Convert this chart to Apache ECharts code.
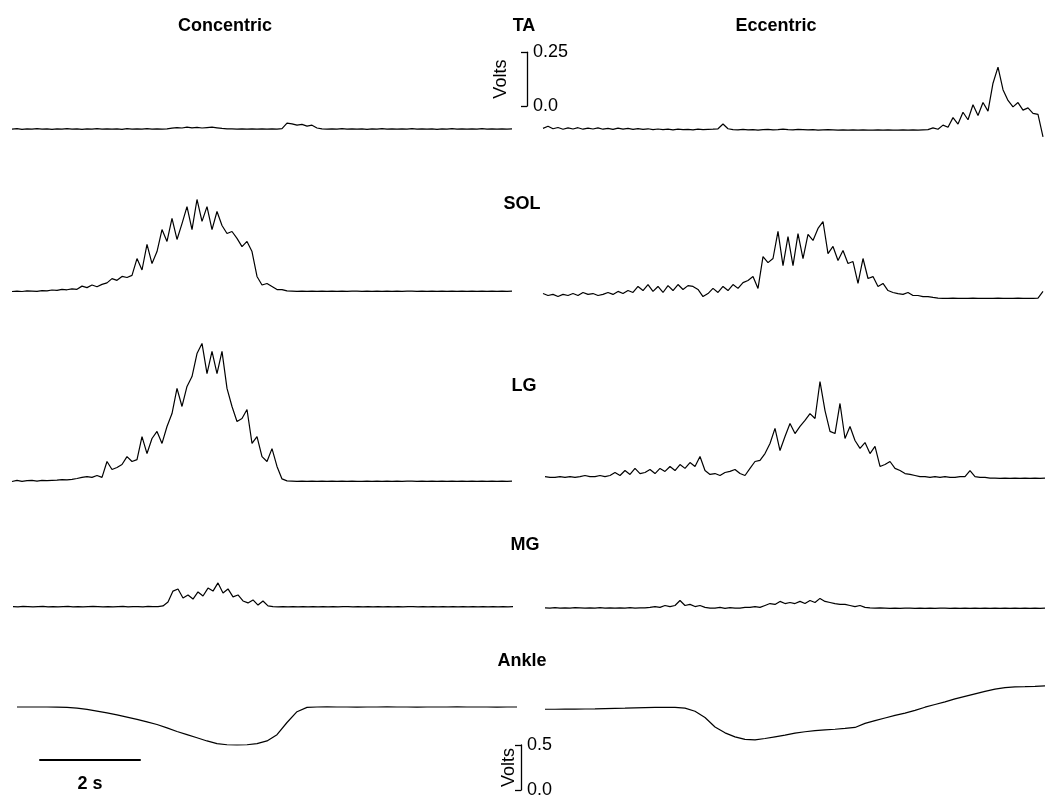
<!DOCTYPE html>
<html><head><meta charset="utf-8">
<script src="https://cdn.jsdelivr.net/npm/echarts@6/dist/echarts.min.js"></script>
<style>html,body{margin:0;padding:0;background:#fff}#c{width:1045px;height:801px}</style>
</head><body><div id="c"></div>
<script>
// ---------------- DATA ----------------
const columns = ['Concentric', 'Eccentric'];
const muscles = ['TA', 'SOL', 'LG', 'MG'];
const ankleLabel = 'Ankle';
const EMG_STEP_S = 0.1;     // sample spacing of the EMG envelopes (s)
const ANKLE_STEP_S = 0.2;   // sample spacing of the ankle signal (s)
const emgScaleTicks = [0, 0.25];   // Volts
const ankleScaleTicks = [0, 0.5];  // Volts
const timeBarSeconds = 2;

const taConcentric = [
0.002,0.004,0.001,0.003,0.002,0.004,0.002,0.003,0.001,0.003,
0.002,0.004,0.002,0.003,0.001,0.003,0.002,0.004,0.002,0.003,
0.002,0.003,0.001,0.004,0.002,0.003,0.002,0.004,0.002,0.003,
0.002,0.003,0.006,0.009,0.007,0.011,0.008,0.010,0.007,0.009,
0.011,0.008,0.005,0.003,0.003,0.002,0.003,0.002,0.003,0.002,
0.003,0.002,0.003,0.002,0.004,0.030,0.026,0.020,0.024,0.016,
0.020,0.007,0.003,0.002,0.003,0.002,0.004,0.002,0.003,0.002,
0.003,0.001,0.003,0.002,0.004,0.002,0.003,0.002,0.003,0.002,
0.004,0.002,0.003,0.002,0.003,0.001,0.003,0.002,0.004,0.002,
0.003,0.002,0.003,0.002,0.004,0.002,0.003,0.002,0.003,0.002,
0.003];
const taEccentric = [
0.010,0.020,0.008,0.014,0.006,0.012,0.007,0.013,0.006,0.011,
0.007,0.012,0.006,0.010,0.005,0.011,0.006,0.010,0.005,0.009,
0.005,0.008,0.004,0.007,0.004,0.006,0.003,0.006,0.004,0.005,
0.003,0.006,0.004,0.005,0.006,0.008,0.030,0.008,0.004,0.003,
0.005,0.003,0.004,0.002,0.004,0.005,0.003,0.004,0.006,0.004,
0.003,0.005,0.004,0.003,0.004,0.002,0.003,0.004,0.003,0.002,
0.003,0.002,0.003,0.002,0.003,0.002,0.002,0.003,0.002,0.003,
0.002,0.002,0.003,0.002,0.003,0.002,0.003,0.004,0.012,0.006,
0.025,0.015,0.060,0.030,0.085,0.050,0.120,0.070,0.130,0.090,
0.220,0.295,0.190,0.140,0.110,0.130,0.095,0.105,0.080,0.075,
-0.030];
const solConcentric = [
0.000,0.002,0.000,0.003,0.002,0.001,0.004,0.003,0.007,0.005,
0.010,0.008,0.012,0.010,0.025,0.018,0.030,0.022,0.033,0.040,
0.060,0.052,0.070,0.065,0.075,0.153,0.100,0.219,0.130,0.186,
0.288,0.233,0.340,0.242,0.316,0.395,0.288,0.428,0.326,0.395,
0.288,0.372,0.307,0.270,0.279,0.247,0.209,0.233,0.186,0.070,
0.030,0.037,0.023,0.009,0.009,0.003,0.002,0.001,0.002,0.001,
0.002,0.001,0.002,0.001,0.002,0.001,0.002,0.001,0.002,0.002,
0.001,0.002,0.001,0.002,0.001,0.002,0.001,0.002,0.001,0.002,
0.002,0.001,0.002,0.001,0.002,0.001,0.002,0.001,0.002,0.001,
0.002,0.001,0.002,0.001,0.002,0.001,0.002,0.001,0.002,0.001,
0.002];
const solEccentric = [
0.023,0.014,0.019,0.009,0.019,0.014,0.023,0.014,0.028,0.019,
0.023,0.014,0.019,0.028,0.019,0.033,0.023,0.037,0.028,0.056,
0.037,0.065,0.033,0.056,0.028,0.060,0.037,0.065,0.042,0.060,
0.056,0.042,0.009,0.023,0.047,0.028,0.056,0.037,0.065,0.047,
0.074,0.084,0.102,0.047,0.195,0.167,0.186,0.312,0.153,0.288,
0.153,0.302,0.186,0.298,0.270,0.326,0.358,0.209,0.242,0.177,
0.223,0.163,0.172,0.070,0.186,0.093,0.102,0.056,0.070,0.037,
0.028,0.023,0.019,0.028,0.014,0.014,0.009,0.009,0.005,0.002,
0.001,0.001,0.002,0.001,0.001,0.001,0.002,0.001,0.001,0.001,
0.001,0.002,0.001,0.001,0.001,0.002,0.001,0.001,0.001,0.002,
0.033];
const lgConcentric = [
0.000,0.005,0.001,0.004,0.005,0.002,0.005,0.004,0.005,0.006,
0.009,0.008,0.010,0.014,0.019,0.023,0.019,0.028,0.019,0.093,
0.056,0.065,0.079,0.116,0.093,0.102,0.209,0.130,0.200,0.233,
0.177,0.256,0.316,0.433,0.349,0.442,0.488,0.595,0.642,0.502,
0.605,0.502,0.605,0.433,0.349,0.279,0.293,0.335,0.177,0.209,
0.116,0.093,0.153,0.070,0.012,0.003,0.002,0.001,0.002,0.001,
0.002,0.001,0.002,0.001,0.002,0.001,0.002,0.001,0.002,0.001,
0.001,0.002,0.001,0.002,0.001,0.002,0.001,0.002,0.001,0.002,
0.002,0.001,0.002,0.001,0.002,0.001,0.002,0.001,0.002,0.001,
0.002,0.001,0.002,0.001,0.002,0.001,0.002,0.001,0.002,0.001,
0.002];
const lgEccentric = [
0.009,0.005,0.005,0.009,0.005,0.009,0.005,0.009,0.014,0.009,
0.009,0.014,0.009,0.014,0.028,0.014,0.037,0.019,0.047,0.023,
0.028,0.042,0.023,0.047,0.033,0.056,0.037,0.065,0.047,0.074,
0.056,0.102,0.037,0.019,0.023,0.014,0.028,0.033,0.042,0.023,
0.014,0.047,0.079,0.084,0.116,0.163,0.233,0.130,0.195,0.256,
0.209,0.242,0.270,0.302,0.279,0.451,0.316,0.219,0.209,0.349,
0.186,0.242,0.177,0.140,0.167,0.116,0.149,0.056,0.065,0.079,
0.047,0.037,0.023,0.019,0.014,0.009,0.009,0.005,0.009,0.005,
0.009,0.005,0.005,0.009,0.009,0.037,0.009,0.005,0.005,0.002,
0.002,0.001,0.002,0.001,0.002,0.001,0.002,0.001,0.002,0.001,
0.002];
const mgConcentric = [
0.002,0.001,0.003,0.002,0.001,0.002,0.003,0.001,0.002,0.001,
0.002,0.003,0.001,0.002,0.001,0.002,0.003,0.002,0.001,0.002,
0.001,0.002,0.003,0.001,0.002,0.002,0.001,0.003,0.002,0.002,
0.005,0.023,0.074,0.084,0.042,0.056,0.037,0.070,0.051,0.088,
0.074,0.112,0.065,0.084,0.047,0.056,0.028,0.019,0.033,0.009,
0.028,0.005,0.002,0.001,0.002,0.001,0.002,0.001,0.002,0.001,
0.002,0.001,0.002,0.001,0.002,0.001,0.002,0.002,0.001,0.002,
0.001,0.002,0.001,0.002,0.001,0.002,0.001,0.002,0.001,0.002,
0.002,0.001,0.002,0.001,0.002,0.001,0.002,0.001,0.002,0.001,
0.002,0.001,0.002,0.001,0.002,0.001,0.002,0.001,0.002,0.001,
0.002];
const mgEccentric = [
0.003,0.002,0.004,0.002,0.003,0.002,0.004,0.003,0.002,0.003,
0.002,0.004,0.002,0.003,0.002,0.003,0.002,0.004,0.002,0.003,
0.003,0.005,0.009,0.005,0.014,0.009,0.014,0.037,0.014,0.019,
0.009,0.014,0.005,0.002,0.002,0.005,0.001,0.004,0.002,0.002,
0.005,0.005,0.009,0.005,0.014,0.023,0.019,0.033,0.023,0.028,
0.023,0.033,0.023,0.037,0.028,0.047,0.033,0.028,0.023,0.019,
0.019,0.014,0.009,0.014,0.005,0.003,0.002,0.003,0.002,0.001,
0.002,0.001,0.002,0.002,0.001,0.002,0.001,0.002,0.001,0.002,
0.002,0.001,0.002,0.001,0.002,0.001,0.002,0.001,0.002,0.001,
0.002,0.001,0.002,0.001,0.002,0.001,0.002,0.001,0.002,0.001,
0.002];
const ankleConcentric = [
0.922,0.922,0.922,0.922,0.921,0.918,0.910,0.895,0.877,0.857,
0.835,0.810,0.785,0.757,0.728,0.690,0.650,0.615,0.580,0.545,
0.515,0.503,0.500,0.503,0.515,0.545,0.615,0.750,0.870,0.918,
0.922,0.923,0.922,0.922,0.921,0.922,0.922,0.923,0.922,0.922,
0.921,0.922,0.922,0.922,0.923,0.922,0.922,0.922,0.921,0.922,
0.922];
const ankleEccentric = [
0.897,0.897,0.898,0.899,0.900,0.902,0.905,0.908,0.910,0.913,
0.916,0.918,0.919,0.919,0.910,0.875,0.805,0.700,0.635,0.590,
0.562,0.556,0.572,0.591,0.610,0.632,0.647,0.660,0.668,0.675,
0.684,0.695,0.740,0.770,0.800,0.830,0.855,0.885,0.920,0.950,
0.980,1.012,1.040,1.068,1.095,1.120,1.138,1.146,1.148,1.152,
1.158];

// ---------------- LAYOUT ----------------
const FONT = '"Liberation Sans", Arial, sans-serif';
const PX_PER_VOLT_EMG = 215, PX_PER_VOLT_ANKLE = 90, PX_PER_SEC = 50, SPAN_S = 10;
const emgLayout = {
  TA:  {left:[12,543], base:[129.5,130.5], vmin:-0.06, vmax:0.4},
  SOL: {left:[12,543], base:[291.5,298.5], vmin:-0.06, vmax:0.7},
  LG:  {left:[12,545], base:[481.5,478.5], vmin:-0.06, vmax:0.7},
  MG:  {left:[13,545], base:[607,608.5],   vmin:-0.06, vmax:0.3}
};
const ankleLayout = {left:[17,545], zeroY:790, vmin:0, vmax:1.3};
const emgData = {
  TA:[taConcentric, taEccentric], SOL:[solConcentric, solEccentric],
  LG:[lgConcentric, lgEccentric], MG:[mgConcentric, mgEccentric]
};
const ankleData = [ankleConcentric, ankleEccentric];

const grids = [], xAxes = [], yAxes = [], series = [];
function addPanel(left, zeroY, vmin, vmax, pxPerV, values, step) {
  const idx = grids.length;
  grids.push({left: left, top: zeroY - vmax * pxPerV, width: SPAN_S * PX_PER_SEC, height: (vmax - vmin) * pxPerV});
  xAxes.push({gridIndex: idx, type: 'value', min: 0, max: SPAN_S, show: false});
  yAxes.push({gridIndex: idx, type: 'value', min: vmin, max: vmax, show: false});
  series.push({
    type: 'line', xAxisIndex: idx, yAxisIndex: idx, symbol: 'none', silent: true,
    lineStyle: {color: '#000', width: 1.2},
    data: values.map((v, i) => [Math.round(i * step * 100) / 100, v])
  });
}
muscles.forEach(m => {
  const L = emgLayout[m];
  [0, 1].forEach(c => addPanel(L.left[c], L.base[c], L.vmin, L.vmax, PX_PER_VOLT_EMG, emgData[m][c], EMG_STEP_S));
});
[0, 1].forEach(c => addPanel(ankleLayout.left[c], ankleLayout.zeroY, ankleLayout.vmin, ankleLayout.vmax, PX_PER_VOLT_ANKLE, ankleData[c], ANKLE_STEP_S));

function addScaleBar(barX, zeroY, pxPerV, ticks, nameGap) {
  const idx = grids.length;
  const range = ticks[1] - ticks[0];
  grids.push({left: barX - 8, top: zeroY - range * pxPerV, width: 8, height: range * pxPerV});
  xAxes.push({gridIndex: idx, type: 'value', min: 0, max: 1, show: false});
  yAxes.push({
    gridIndex: idx, type: 'value', position: 'right', min: ticks[0], max: ticks[1], interval: range,
    axisLine: {show: true, onZero: false, lineStyle: {color: '#000', width: 1.3}},
    axisTick: {show: true, inside: true, length: 6, lineStyle: {color: '#000', width: 1.3}},
    axisLabel: {show: true, margin: 6, fontSize: 18, color: '#000', fontFamily: FONT,
                showMinLabel: true, showMaxLabel: true,
                formatter: v => v === 0 ? '0.0' : String(v)},
    splitLine: {show: false},
    name: 'Volts', nameLocation: 'middle', nameRotate: 90, nameGap: nameGap,
    nameTextStyle: {fontSize: 18, color: '#000', fontFamily: FONT}
  });
}
addScaleBar(527, 106, PX_PER_VOLT_EMG, emgScaleTicks, -35);
addScaleBar(521, 790, PX_PER_VOLT_ANKLE, ankleScaleTicks, -21);

(function addTimeBar() {
  const idx = grids.length;
  grids.push({left: 40, top: 740, width: timeBarSeconds * PX_PER_SEC, height: 20});
  xAxes.push({
    gridIndex: idx, type: 'value', min: 0, max: timeBarSeconds, position: 'bottom',
    axisLine: {show: true, onZero: false, lineStyle: {color: '#000', width: 2}},
    axisTick: {show: false}, axisLabel: {show: false}, splitLine: {show: false},
    name: timeBarSeconds + ' s', nameLocation: 'middle', nameGap: 15,
    nameTextStyle: {fontSize: 18, fontWeight: 'bold', color: '#000', fontFamily: FONT}
  });
  yAxes.push({gridIndex: idx, type: 'value', min: 0, max: 1, show: false});
})();

const labelPos = [
  {text: columns[0], x: 225, y: 26},
  {text: columns[1], x: 776, y: 26},
  {text: muscles[0], x: 524, y: 26},
  {text: muscles[1], x: 522, y: 204},
  {text: muscles[2], x: 524, y: 386},
  {text: muscles[3], x: 525, y: 545},
  {text: ankleLabel, x: 522, y: 661}
];
const graphics = labelPos.map(l => ({
  type: 'text', x: l.x, y: l.y, silent: true,
  style: {text: l.text, font: 'bold 18px ' + FONT, fill: '#000',
          align: 'center', verticalAlign: 'middle', textAlign: 'center', textVerticalAlign: 'middle'}
}));

const chart = echarts.init(document.getElementById('c'), null, {renderer: 'canvas'});
chart.setOption({
  animation: false,
  backgroundColor: '#fff',
  grid: grids, xAxis: xAxes, yAxis: yAxes, series: series,
  graphic: graphics
});
</script>
</body></html>
